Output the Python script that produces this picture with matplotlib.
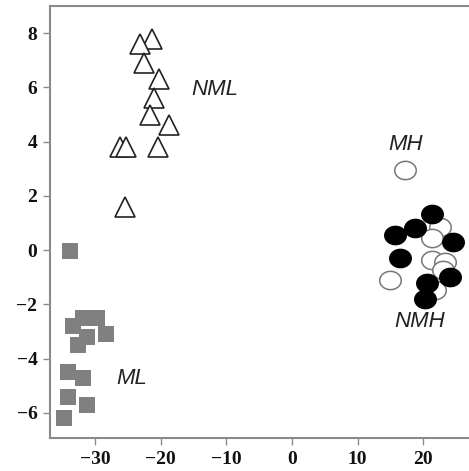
import numpy as np
import matplotlib
matplotlib.use("Agg")
import matplotlib.pyplot as plt
from matplotlib.path import Path

# NML (open triangles)
nml_x = [-21.4, -23.1, -22.6, -20.3, -21.1, -21.7, -18.8, -26.3, -25.3, -20.5, -25.5]
nml_y = [7.8, 7.6, 6.9, 6.3, 5.6, 5.0, 4.6, 3.8, 3.8, 3.8, 1.6]
# ML (grey squares)
ml_x = [-33.9, -31.8, -29.8, -33.4, -31.3, -28.4, -32.6, -34.2, -31.8, -34.2, -31.3, -34.7]
ml_y = [-0.05, -2.5, -2.5, -2.8, -3.2, -3.1, -3.5, -4.5, -4.7, -5.4, -5.7, -6.2]
# MH (open circles)
mh_x = [17.3, 22.6, 21.4, 15.0, 21.4, 23.4, 23.1, 21.8]
mh_y = [2.95, 0.85, 0.45, -1.1, -0.37, -0.44, -0.74, -1.47]
# NMH (filled circles)
nmh_x = [21.4, 18.8, 15.7, 24.6, 16.5, 24.1, 20.6, 20.3]
nmh_y = [1.33, 0.8, 0.55, 0.3, -0.3, -1.0, -1.2, -1.8]

xticks = [-30, -20, -10, 0, 10, 20]
yticks = [-6, -4, -2, 0, 2, 4, 6, 8]

t = np.linspace(0, 2 * np.pi, 60)
ell = Path(np.column_stack([np.cos(t), 0.85 * np.sin(t)]), closed=True)

fig = plt.figure(figsize=(4.69, 4.71), dpi=100)
ax = fig.add_axes([0.1066, 0.070, 0.8934, 0.917])

ax.plot(nml_x, nml_y, ls='none', marker='^', ms=14, mfc='white', mec='#222222', mew=1.2)
ax.plot(ml_x, ml_y, ls='none', marker='s', ms=11, mfc='#808080', mec='#808080', mew=0)
ax.plot(mh_x, mh_y, ls='none', marker=ell, ms=15.5, mfc='white', mec='#777777', mew=1.1)
ax.plot(nmh_x, nmh_y, ls='none', marker=ell, ms=15.5, mfc='black', mec='black', mew=1.0)

lab_font = dict(family='Liberation Sans', style='italic', fontsize=16, color='#222222')
ax.text(-11.8, 5.91, 'NML', ha='center', va='center', **lab_font)
ax.text(-24.4, -4.72, 'ML', ha='center', va='center', **lab_font)
ax.text(17.3, 3.9, 'MH', ha='center', va='center', **lab_font)
ax.text(19.5, -2.65, 'NMH', ha='center', va='center', **lab_font)

ax.set_xlim(-36.9, 27.0)
ax.set_ylim(-6.93, 9.0)
ax.set_xticks(xticks)
ax.set_yticks(yticks)
ax.set_xticklabels([f"\u2212{abs(v)}" if v < 0 else str(v) for v in xticks])
ax.set_yticklabels([f"\u2212{abs(v)}" if v < 0 else str(v) for v in yticks])
for lbl in ax.get_xticklabels() + ax.get_yticklabels():
    lbl.set_family('Liberation Serif')
    lbl.set_fontweight('bold')
    lbl.set_fontsize(14)
    lbl.set_color('#111111')

ax.spines['right'].set_visible(False)
for s in ['left', 'bottom', 'top']:
    ax.spines[s].set_color('#8a8a8a')
    ax.spines[s].set_linewidth(1.5)
ax.tick_params(direction='out', length=5, width=1, color='#8a8a8a', pad=4)

fig.savefig('out.png', dpi=100)
